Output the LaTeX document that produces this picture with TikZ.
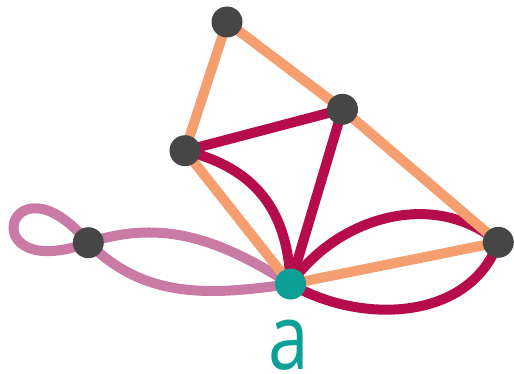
\documentclass[tikz,border=0pt]{standalone}
\usepackage{fontspec}
\setmainfont{Open Sans}
\definecolor{orc}{RGB}{245,158,112}
\definecolor{crim}{RGB}{183,12,75}
\definecolor{pinkc}{RGB}{201,122,165}
\definecolor{darkc}{RGB}{70,70,70}
\definecolor{tealc}{RGB}{12,160,150}
\pgfdeclarelayer{bg}
\pgfsetlayers{bg,main}
\begin{document}
\begin{tikzpicture}[x=1pt,y=1pt,
  vtx/.style={circle,fill=darkc,minimum size=31pt,inner sep=0pt},
  avtx/.style={vtx,fill=tealc},
  oe/.style={draw=orc,line width=10pt},
  ce/.style={draw=crim,line width=10pt},
  pe/.style={draw=pinkc,line width=10pt}]
\useasboundingbox (0,0) rectangle (514,373);
\node[vtx] (T) at (227,351) {};
\node[vtx] (R) at (342.5,263.7) {};
\node[vtx] (L) at (185,222.3) {};
\node[vtx] (FR) at (498.3,130.7) {};
\node[vtx] (P) at (88.3,130.3) {};
\node[avtx] (A) at (290.5,89) {};
\node[text=tealc,anchor=base,xscale=0.8,inner sep=0pt,font=\fontsize{91}{91}\selectfont] (lab) at (289,4) {a};
\begin{pgfonlayer}{bg}
  % pink
  \draw[pe] (P.center) .. controls +(130:125) and +(200:125) .. (P.center);
  \draw[pe] (P.center) to[out=18,in=148] (A.center);
  \draw[pe] (P.center) to[out=-45,in=188] (A.center);
  % crimson
  \draw[ce] (L.center) -- (R.center);
  \draw[ce] (R.center) -- (A.center);
  \draw[ce] (L.center) to[out=-14,in=92,looseness=1.1] (A.center);
  \draw[ce] (A.center) to[out=55,in=140] (FR.center);
  \draw[ce] (A.center) to[out=-30,in=-110] (FR.center);
  % orange
  \draw[oe] (T.center) -- (R.center);
  \draw[oe] (R.center) -- (FR.center);
  \draw[oe] (T.center) -- (L.center);
  \draw[oe] (L.center) -- (A.center);
  \draw[oe] (A.center) -- (FR.center);
\end{pgfonlayer}
\end{tikzpicture}
\end{document}
